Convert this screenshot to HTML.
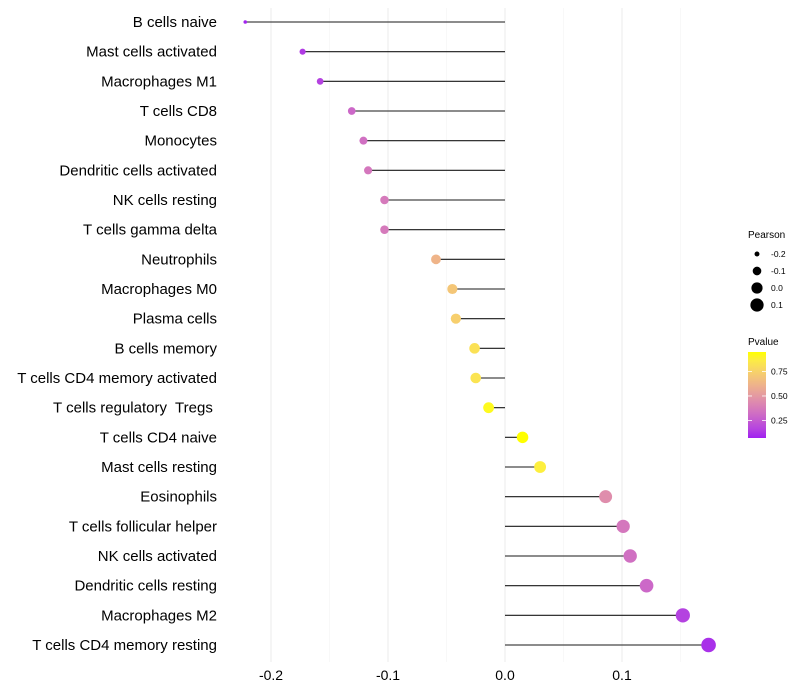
<!DOCTYPE html>
<html><head><meta charset="utf-8"><style>
body{margin:0;background:#fff;font-family:"Liberation Sans",sans-serif}
svg{display:block}
</style></head><body>
<svg id="chart" width="800" height="700" xmlns="http://www.w3.org/2000/svg"></svg>
<script>
const cells=["B cells naive","Mast cells activated","Macrophages M1","T cells CD8","Monocytes","Dendritic cells activated","NK cells resting","T cells gamma delta","Neutrophils","Macrophages M0","Plasma cells","B cells memory","T cells CD4 memory activated","T cells regulatory  Tregs ","T cells CD4 naive","Mast cells resting","Eosinophils","T cells follicular helper","NK cells activated","Dendritic cells resting","Macrophages M2","T cells CD4 memory resting"];
const pearson=[-0.222,-0.173,-0.158,-0.131,-0.121,-0.117,-0.103,-0.103,-0.059,-0.045,-0.042,-0.026,-0.025,-0.014,0.015,0.030,0.086,0.101,0.107,0.121,0.152,0.174];
const pvalue=[0.08,0.14,0.16,0.30,0.33,0.36,0.37,0.37,0.62,0.70,0.74,0.82,0.83,0.93,0.95,0.88,0.45,0.36,0.33,0.30,0.16,0.11];
const xTicks=[-0.2,-0.1,0.0,0.1];
const sizeLegend=[-0.2,-0.1,0.0,0.1];
const pTicks=[0.25,0.5,0.75];
const NS="http://www.w3.org/2000/svg",svg=document.getElementById('chart');
function mk(t,a,p){const e=document.createElementNS(NS,t);for(const k in a)e.setAttribute(k,a[k]);(p||svg).appendChild(e);return e;}
const x=v=>505+v*1170;
const y=i=>22+i*(623/21);
const vMin=Math.min(...pearson),vMax=Math.max(...pearson);
const r=v=>{const t=Math.max(0,(v-vMin)/(vMax-vMin));return Math.sqrt(1.8*1.8+(7.3*7.3-1.8*1.8)*t);};
const pMin=0.07,pMax=0.95;
function toLab(c){let [R,G,B]=c.map(v=>{v/=255;return v>0.04045?Math.pow((v+0.055)/1.055,2.4):v/12.92;});
let X=(R*0.4124+G*0.3576+B*0.1805)/0.95047,Y=R*0.2126+G*0.7152+B*0.0722,Z=(R*0.0193+G*0.1192+B*0.9505)/1.08883;
const f=t=>t>0.008856?Math.cbrt(t):7.787*t+16/116;return [116*f(Y)-16,500*(f(X)-f(Y)),200*(f(Y)-f(Z))];}
function fromLab(l){let fy=(l[0]+16)/116,fx=fy+l[1]/500,fz=fy-l[2]/200;const g=t=>t*t*t>0.008856?t*t*t:(t-16/116)/7.787;
let X=g(fx)*0.95047,Y=g(fy),Z=g(fz)*1.08883;let R=X*3.2406-Y*1.5372-Z*0.4986,G=-X*0.9689+Y*1.8758+Z*0.0415,B=X*0.0557-Y*0.2040+Z*1.0570;
return 'rgb('+[R,G,B].map(v=>{v=v>0.0031308?1.055*Math.pow(v,1/2.4)-0.055:12.92*v;return Math.round(Math.min(1,Math.max(0,v))*255);}).join(',')+')';}
const L0=toLab([160,32,240]),L1=toLab([255,255,0]);
function col(p){let t=Math.min(1,Math.max(0,(p-pMin)/(pMax-pMin)));return fromLab(L0.map((a,i)=>a+(L1[i]-a)*t));}
for(let v=-0.2;v<=0.1501;v+=0.05){const major=Math.abs(Math.round(v*20)%2)===0;
const g=mk('line',{x1:x(v),x2:x(v),y1:8,y2:662,stroke:major?'#ebebeb':'#f3f3f3','stroke-width':major?1:0.6});

}
xTicks.forEach(v=>{const t=mk('text',{x:x(v),y:680,'text-anchor':'middle','font-size':14,fill:'#000'});t.textContent=v.toFixed(1);

});
cells.forEach((c,i)=>{const t=mk('text',{x:217,y:y(i)+5,'text-anchor':'end','font-size':15,fill:'#000','xml:space':'preserve',style:'white-space:pre'});t.textContent=c;


const s=mk('line',{x1:x(0),x2:x(pearson[i]),y1:y(i),y2:y(i),stroke:'#1a1a1a','stroke-width':1.1});


const d=mk('circle',{cx:x(pearson[i]),cy:y(i),r:r(pearson[i]),fill:col(pvalue[i])});

});
const lt=mk('text',{x:748,y:238,'font-size':10});lt.textContent='Pearson';


sizeLegend.forEach((v,i)=>{const cy=254+i*17;const c=mk('circle',{cx:757,cy:cy,r:r(v),fill:'#000'});


const t=mk('text',{x:771,y:cy+3,'font-size':8.5});t.textContent=v.toFixed(1);

});
const ct=mk('text',{x:748,y:345,'font-size':10});ct.textContent='Pvalue';


const defs=mk('defs',{});const gr=mk('linearGradient',{id:'pg',x1:0,y1:1,x2:0,y2:0},defs);
for(let k=0;k<=10;k++){mk('stop',{offset:k/10,'stop-color':col(pMin+(pMax-pMin)*k/10)},gr);}
const barTop=352,barBot=438;
const bar=mk('rect',{x:748,y:barTop,width:18,height:barBot-barTop,fill:'url(#pg)'});


const py=p=>barBot-(p-pMin)/(pMax-pMin)*(barBot-barTop);
pTicks.forEach(p=>{mk('line',{x1:748,x2:752,y1:py(p),y2:py(p),stroke:'#fff','stroke-width':0.8});mk('line',{x1:762,x2:766,y1:py(p),y2:py(p),stroke:'#fff','stroke-width':0.8});
const t=mk('text',{x:771,y:py(p)+3,'font-size':8.5});t.textContent=p.toFixed(2);

});
</script>
</body></html>
